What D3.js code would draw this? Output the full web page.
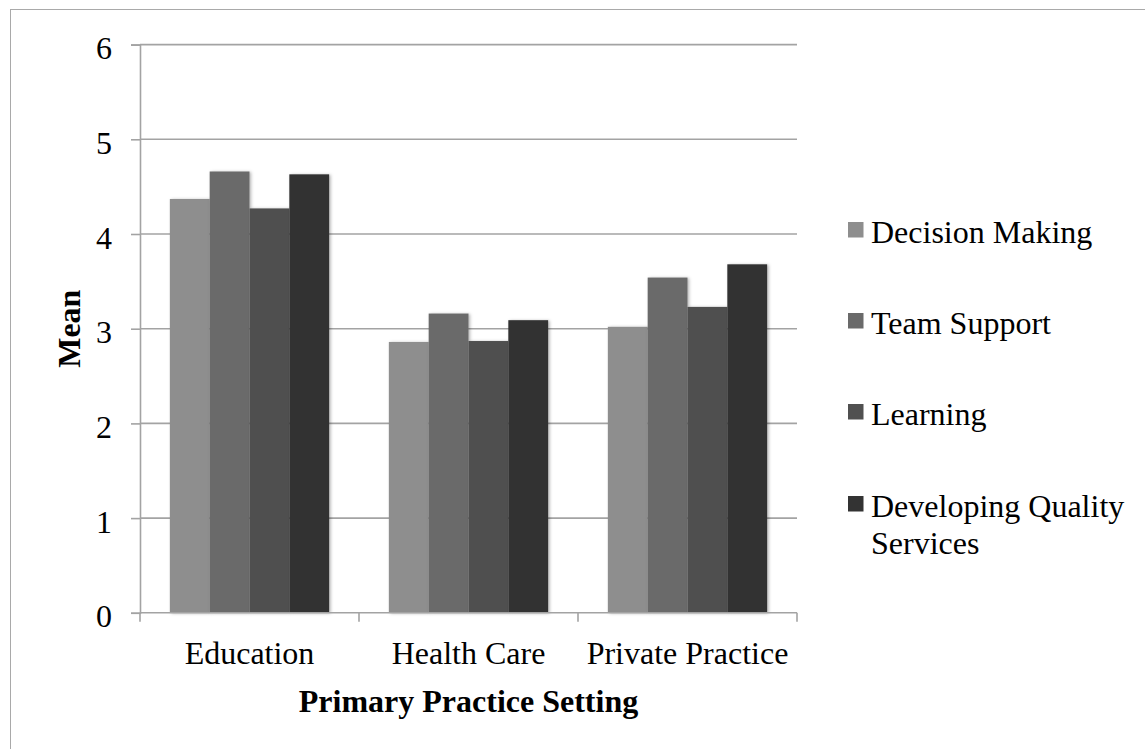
<!DOCTYPE html>
<html>
<head>
<meta charset="utf-8">
<script src="https://cdn.jsdelivr.net/npm/d3@7/dist/d3.min.js"></script>
<style>
  html, body { margin: 0; padding: 0; background: #fff; }
  svg { display: block; font-family: "Liberation Serif", "Times New Roman", serif; }
</style>
</head>
<body>
<svg id="chart" width="1145" height="749"></svg>
<script>
// Mean scores by primary practice setting
const categories = ["Education", "Health Care", "Private Practice"];
const seriesNames = ["Decision Making", "Team Support", "Learning", "Developing Quality Services"];
const decisionMaking = [4.37, 2.86, 3.02];
const teamSupport = [4.66, 3.16, 3.54];
const learning = [4.27, 2.87, 3.23];
const developingQuality = [4.63, 3.09, 3.68];
const yTicks = [0, 1, 2, 3, 4, 5, 6];
const seriesColors = ["#8e8e8e", "#6a6a6a", "#505050", "#333333"];

const seriesValues = [decisionMaking, teamSupport, learning, developingQuality];

const svg = d3.select("#chart");
const plot = { left: 140, right: 797, top: 44.6, bottom: 612.8 };
const fontFamily = "Liberation Serif, Times New Roman, serif";
const fontSize = 32;

// Outer chart border
svg.append("rect")
  .attr("x", 10.5).attr("y", 9.5)
  .attr("width", 1160).attr("height", 760)
  .attr("fill", "none").attr("stroke", "#a9a9a9").attr("stroke-width", 1);

// Soft shadow under bars
const defs = svg.append("defs");
const f = defs.append("filter").attr("id", "barShadow")
  .attr("x", "-20%").attr("y", "-5%").attr("width", "140%").attr("height", "110%");
f.append("feDropShadow").attr("dx", 1.5).attr("dy", 0.5)
  .attr("stdDeviation", 1.6).attr("flood-color", "#000").attr("flood-opacity", 0.3);

const y = d3.scaleLinear().domain([0, 6]).range([plot.bottom, plot.top]);
const x0 = d3.scaleBand().domain(categories).range([plot.left, plot.right]).padding(0);
const x1 = d3.scaleBand().domain(seriesNames).range([0, x0.bandwidth()])
  .paddingInner(0).paddingOuter(0.75);

const axisColor = "#a3a3a3";

// Horizontal gridlines
svg.append("g").selectAll("line").data(yTicks.filter(d => d > 0)).join("line")
  .attr("x1", plot.left).attr("x2", plot.right)
  .attr("y1", d => y(d)).attr("y2", d => y(d))
  .attr("stroke", axisColor).attr("stroke-width", 1.6);

// Y axis
const yAxis = d3.axisLeft(y).tickValues(yTicks).tickSize(9).tickPadding(19)
  .tickFormat(d3.format("d"));
const yg = svg.append("g").attr("transform", `translate(${plot.left},0)`).call(yAxis)
  .attr("font-family", fontFamily);
yg.select(".domain").attr("stroke", axisColor).attr("stroke-width", 1.6);
yg.selectAll(".tick line").attr("stroke", axisColor).attr("stroke-width", 1.6);
yg.selectAll(".tick text")
  .attr("font-family", fontFamily)
  .attr("font-size", fontSize).attr("fill", "#000")
  .attr("dy", null).attr("y", 14).attr("dominant-baseline", "alphabetic");

// Bars
const groups = svg.append("g").selectAll("g").data(categories).join("g")
  .attr("transform", d => `translate(${x0(d)},0)`);
groups.selectAll("rect")
  .data((c, ci) => seriesNames.map((s, si) => ({ s, si, v: seriesValues[si][ci] })))
  .join("rect")
  .attr("x", d => x1(d.s))
  .attr("width", x1.bandwidth())
  .attr("y", d => y(d.v))
  .attr("height", d => y(0) - y(d.v))
  .attr("fill", d => seriesColors[d.si])
  .attr("filter", "url(#barShadow)");

// X axis
const xAxisLine = svg.append("g");
xAxisLine.append("line")
  .attr("x1", plot.left).attr("x2", plot.right)
  .attr("y1", y(0)).attr("y2", y(0))
  .attr("stroke", axisColor).attr("stroke-width", 1.6);
const xBounds = categories.map(c => x0(c)).concat([plot.right]);
xAxisLine.selectAll("line.tk").data(xBounds).join("line").attr("class", "tk")
  .attr("x1", d => d).attr("x2", d => d)
  .attr("y1", y(0)).attr("y2", y(0) + 9)
  .attr("stroke", axisColor).attr("stroke-width", 1.6);
xAxisLine.selectAll("text").data(categories).join("text")
  .attr("x", d => x0(d) + x0.bandwidth() / 2)
  .attr("y", 664)
  .attr("text-anchor", "middle")
  .attr("font-family", fontFamily)
  .attr("font-size", fontSize).attr("fill", "#000")
  .text(d => d);

// Axis titles
svg.append("text")
  .attr("x", (plot.left + plot.right) / 2).attr("y", 712)
  .attr("text-anchor", "middle")
  .attr("font-family", fontFamily)
  .attr("font-size", fontSize).attr("font-weight", "bold").attr("fill", "#000")
  .text("Primary Practice Setting");

svg.append("text")
  .attr("transform", `translate(80,${(plot.top + plot.bottom) / 2}) rotate(-90)`)
  .attr("text-anchor", "middle")
  .attr("font-family", fontFamily)
  .attr("font-size", fontSize).attr("font-weight", "bold").attr("fill", "#000")
  .text("Mean");

// Legend
const legendBaselines = [243, 334, 425, 517];
const legend = svg.append("g");
const items = legend.selectAll("g").data(seriesNames).join("g")
  .attr("transform", (d, i) => `translate(848,${legendBaselines[i]})`);
items.append("rect")
  .attr("x", 0).attr("y", -21).attr("width", 15.5).attr("height", 15.5)
  .attr("fill", (d, i) => seriesColors[i]);
items.append("text")
  .attr("x", 23).attr("y", 0)
  .attr("font-family", fontFamily)
  .attr("font-size", fontSize).attr("fill", "#000")
  .each(function (d) {
    const t = d3.select(this);
    const lines = d === "Developing Quality Services" ? ["Developing Quality", "Services"] : [d];
    lines.forEach((ln, k) => {
      t.append("tspan").attr("x", 23).attr("dy", k === 0 ? 0 : 36.5).text(ln);
    });
  });
</script>
</body>
</html>
